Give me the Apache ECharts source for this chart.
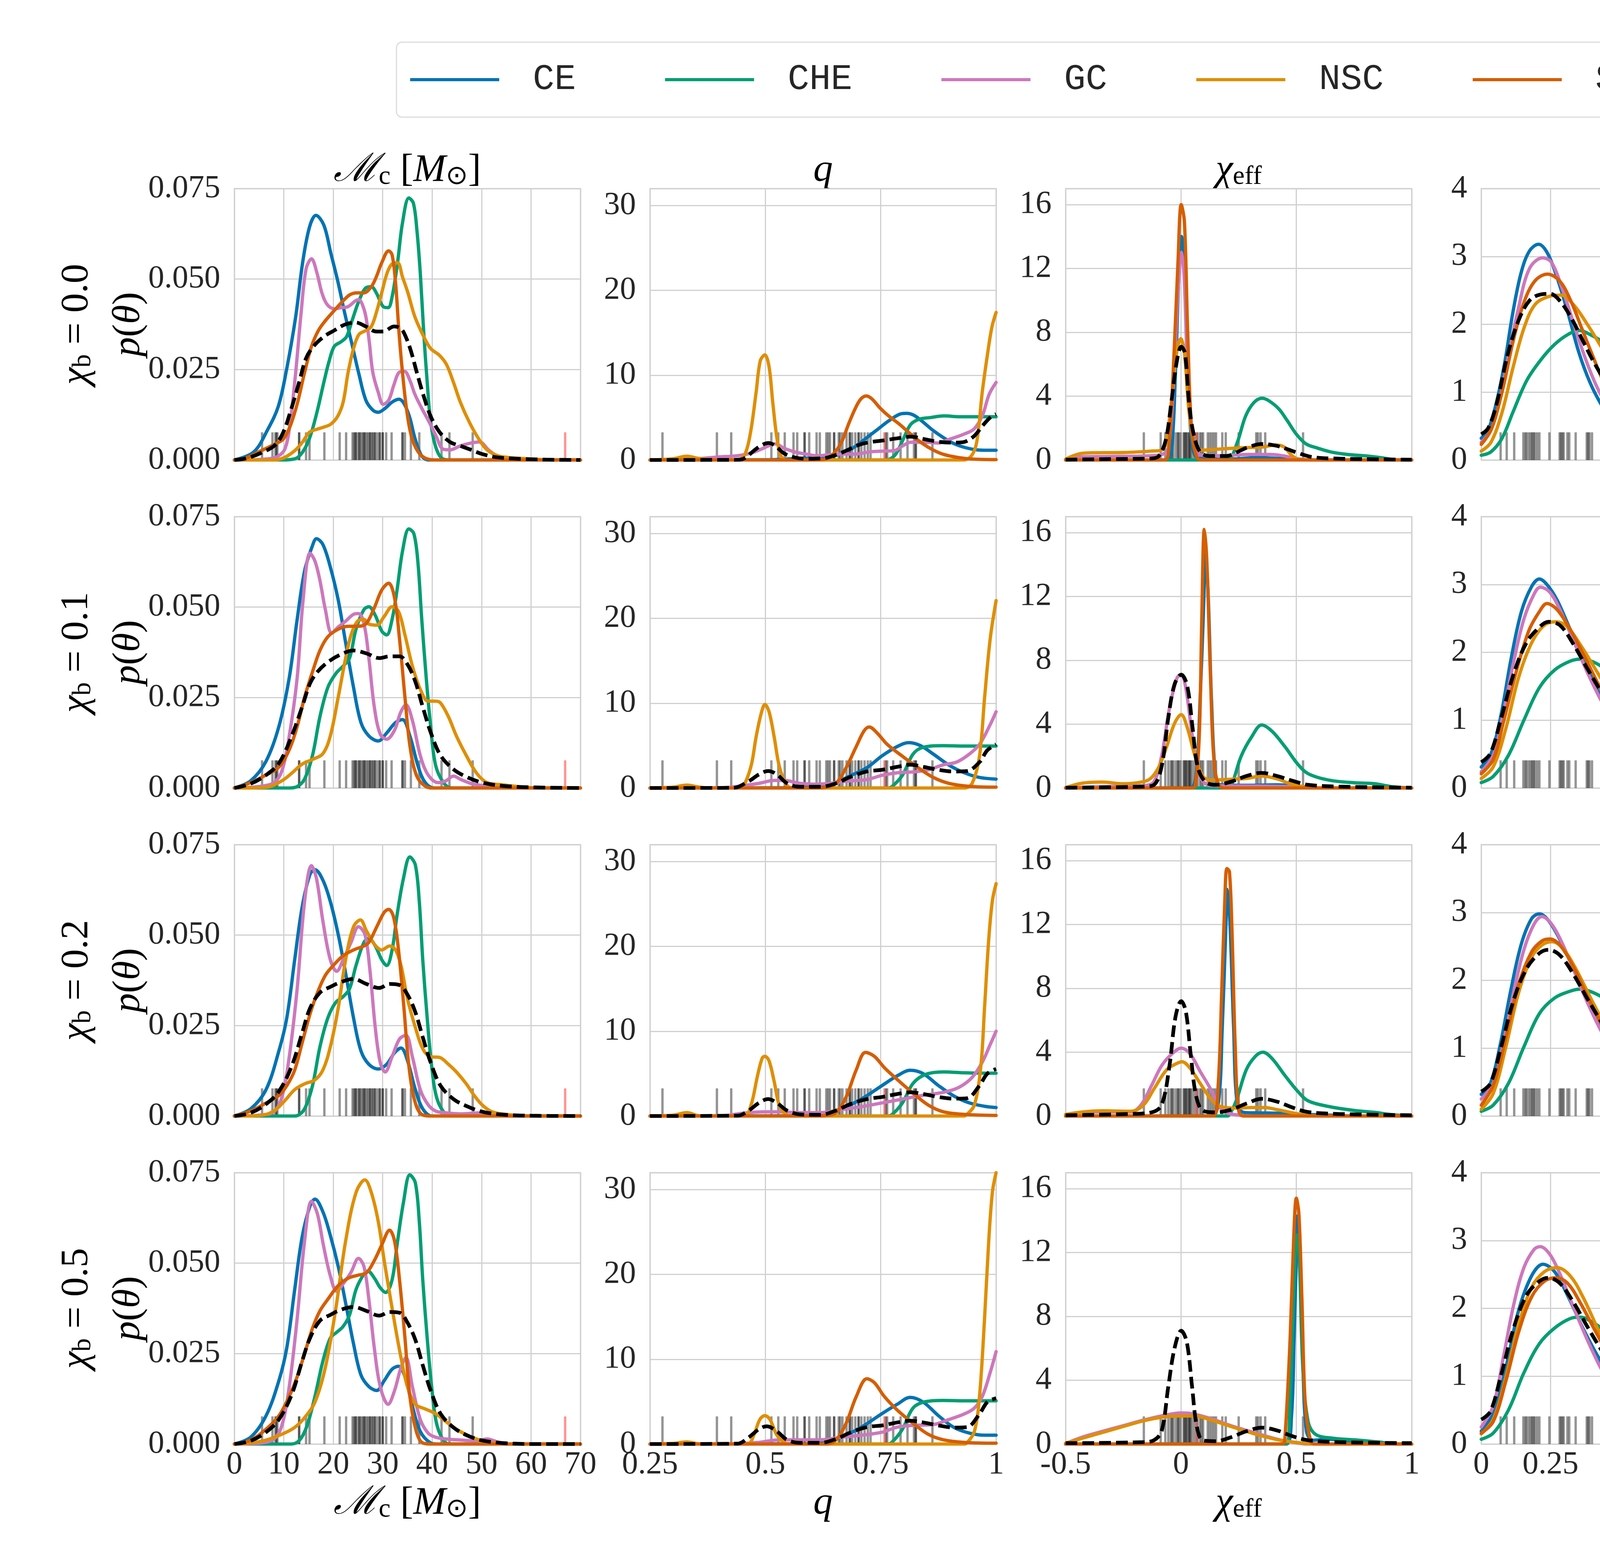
<!DOCTYPE html>
<html>
<head>
<meta charset="utf-8">
<script src="https://cdn.jsdelivr.net/npm/echarts@6/dist/echarts.min.js"></script>
<style>
  html, body { margin: 0; padding: 0; background: #fff; }
  #chart { width: 4800px; height: 4000px; }
</style>
</head>
<body>
<div id="chart"></div>
<script>
// formation channels and their colours
const models = ['CE', 'CHE', 'GC', 'NSC', 'SMT'];
const modelColors = ['#0173b2', '#029e73', '#cc78bc', '#de8f05', '#d55e00'];
const chiB = ['0.0', '0.1', '0.2', '0.5'];

// tick values / labels
const mcXTicks = [0, 10, 20, 30, 40, 50, 60, 70];
const mcXLabels = ['0', '10', '20', '30', '40', '50', '60', '70'];
const mcYTicks = [0, 0.025, 0.05, 0.075];
const mcYLabels = ['0.000', '0.025', '0.050', '0.075'];
const qXTicks = [0.25, 0.5, 0.75, 1];
const qXLabels = ['0.25', '0.5', '0.75', '1'];
const qYTicks = [0, 10, 20, 30];
const qYLabels = ['0', '10', '20', '30'];
const chiXTicks = [-0.5, 0, 0.5, 1];
const chiXLabels = ['-0.5', '0', '0.5', '1'];
const chiYTicks = [0, 4, 8, 12, 16];
const chiYLabels = ['0', '4', '8', '12', '16'];
const zXTicks = [0, 0.25, 0.5, 0.75, 1, 1.25];
const zXLabels = ['0', '0.25', '0.5', '0.75', '1.0', '1.25'];
const zYTicks = [0, 1, 2, 3, 4];
const zYLabels = ['0', '1', '2', '3', '4'];

// observed events (rug)
const mcEvents = [5.6, 7.7, 8.3, 8.5, 8.7, 13.1, 13.1, 14.5, 15.2, 18.2, 21.3, 22.6, 23.9, 24.2, 24.5, 24.5, 24.9, 25.3, 25.3, 25.7, 26.0, 26.3, 26.3, 26.7, 27.0, 27.4, 27.4, 27.8, 28.0, 28.4, 28.4, 28.9, 29.4, 29.4, 30.0, 30.0, 30.7, 31.8, 34.0, 34.0, 34.5, 35.7, 37.4, 41.9, 43.5, 48.2];
const mcRed = [66.9];
const qEvents = [0.277, 0.395, 0.426, 0.513, 0.528, 0.542, 0.561, 0.569, 0.585, 0.585, 0.595, 0.611, 0.618, 0.632, 0.636, 0.640, 0.649, 0.649, 0.659, 0.662, 0.667, 0.676, 0.683, 0.683, 0.688, 0.695, 0.702, 0.702, 0.708, 0.715, 0.722, 0.728, 0.761, 0.764, 0.777, 0.793, 0.808, 0.822, 0.826, 0.826, 0.862];
const qRed = [0.758];
const chiEvents = [-0.161, -0.088, -0.068, -0.055, -0.044, -0.039, -0.033, -0.022, -0.013, -0.011, -0.002, 0.011, 0.015, 0.020, 0.023, 0.029, 0.035, 0.038, 0.041, 0.049, 0.059, 0.071, 0.082, 0.089, 0.096, 0.116, 0.125, 0.134, 0.143, 0.152, 0.179, 0.194, 0.250, 0.326, 0.334, 0.345, 0.365, 0.529];
const chiRed = [0.067];
const zEvents = [0.070, 0.092, 0.119, 0.152, 0.159, 0.164, 0.172, 0.179, 0.184, 0.189, 0.194, 0.202, 0.210, 0.246, 0.283, 0.288, 0.293, 0.298, 0.311, 0.318, 0.341, 0.381, 0.386, 0.391, 0.400, 0.443, 0.474, 0.490, 0.502, 0.512, 0.530, 0.535, 0.597, 0.604, 0.610, 0.646, 0.661, 0.733, 0.749, 0.769, 0.796];
const zRed = [0.719];

// ---------- chi_b = 0.0 ----------
const mc0_CE = [[0,0],[3.9,0.0022],[6.7,0.0083],[8.9,0.0149],[10.6,0.0253],[12.4,0.0396],[13.8,0.0545],[15.2,0.0644],[16.5,0.0676],[18.1,0.0649],[19.5,0.0572],[20.9,0.0495],[22.3,0.0407],[23.8,0.0319],[25.2,0.0237],[26.6,0.0165],[28.0,0.0138],[29.1,0.0132],[30.5,0.0143],[31.9,0.0160],[33.3,0.0168],[34.4,0.0154],[35.5,0.0116],[36.5,0.0061],[37.9,0.0011],[39.4,0],[70,0]];
const mc0_CHE = [[0,0],[9.6,0],[12.4,0.0004],[13.8,0.0022],[15.2,0.006],[16.7,0.0132],[18.1,0.0215],[19.1,0.027],[20.2,0.0314],[21.6,0.0327],[22.7,0.0341],[23.8,0.0385],[25.2,0.044],[26.6,0.0476],[27.7,0.0479],[28.7,0.0462],[30.1,0.0424],[31.1,0.0421],[31.9,0.0451],[33.0,0.0545],[34.0,0.0655],[35.3,0.0724],[36.2,0.071],[36.9,0.0638],[37.6,0.0517],[38.3,0.0352],[39.0,0.0215],[39.7,0.0105],[40.8,0.0033],[42.2,0.0003],[44,0],[70,0]];
const mc0_GC = [[0,0],[6.7,0.0003],[8.9,0.0011],[10.3,0.0033],[11.3,0.0105],[12.4,0.0242],[13.5,0.0407],[14.5,0.0528],[15.6,0.0556],[16.7,0.0517],[17.7,0.0462],[18.8,0.0429],[20.2,0.0418],[21.6,0.0421],[23.0,0.0424],[24.5,0.044],[25.2,0.0443],[25.9,0.0429],[26.6,0.0396],[27.3,0.0325],[28.0,0.0242],[29.1,0.0187],[30.1,0.0154],[31.2,0.0165],[32.3,0.0209],[33.3,0.0242],[34.4,0.0245],[35.5,0.022],[36.5,0.0182],[37.9,0.0143],[39.4,0.0105],[40.8,0.0066],[42.2,0.003],[43.6,0.0028],[45.7,0.0039],[47.9,0.0047],[49.6,0.005],[51.4,0.0028],[53.5,0.0008],[56,0.0002],[70,0]];
const mc0_NSC = [[0,0],[8.2,0],[10.3,0.0008],[12.4,0.0028],[13.8,0.005],[15.2,0.0077],[16.7,0.0085],[18.1,0.0091],[19.5,0.0099],[20.9,0.0121],[22.0,0.016],[23.0,0.0242],[24.1,0.0308],[25.2,0.0347],[26.6,0.0358],[27.7,0.0369],[28.7,0.0407],[29.8,0.0462],[30.9,0.0517],[31.9,0.0542],[33.0,0.0545],[34.0,0.0506],[35.1,0.0462],[36.5,0.0396],[38.3,0.0341],[39.7,0.0308],[41.5,0.0289],[42.9,0.0264],[44.3,0.0215],[45.7,0.016],[47.5,0.0105],[49.3,0.0061],[51.1,0.0028],[53.5,0.0011],[56.4,0.0006],[59.9,0.0003],[64,0],[70,0]];
const mc0_SMT = [[0,0],[2.5,0.0006],[5.3,0.0025],[8.2,0.0044],[9.9,0.0058],[11.3,0.0094],[12.8,0.016],[14.2,0.0242],[15.6,0.0314],[17.0,0.0358],[18.4,0.0385],[20.2,0.0413],[22.0,0.044],[23.4,0.0457],[24.8,0.0462],[26.2,0.0462],[27.7,0.0479],[28.7,0.0506],[29.8,0.0545],[31.2,0.0578],[31.9,0.0567],[32.6,0.049],[33.3,0.0352],[34.0,0.0242],[34.8,0.0143],[35.8,0.0066],[37.2,0.0022],[39.0,0.0003],[41,0],[70,0]];
const mc0_all = [[0,0],[2.5,0.0005],[5.3,0.0019],[8.2,0.0041],[9.9,0.0077],[11.3,0.0132],[13.1,0.0215],[14.5,0.0281],[16.0,0.0314],[18.1,0.0341],[20.2,0.0358],[22.3,0.0374],[24.5,0.038],[26.6,0.0369],[28.7,0.0355],[30.1,0.0355],[32.3,0.0369],[33.7,0.0363],[34.8,0.0336],[35.8,0.0297],[36.9,0.0242],[38.3,0.0176],[39.7,0.0121],[41.5,0.0077],[43.6,0.005],[45.7,0.0039],[47.9,0.0028],[50.0,0.0017],[52.8,0.0008],[56.4,0.0004],[63,0.0001],[70,0]];

const q0_CE = [[0.25,0],[0.5,0.02],[0.576,0.2],[0.636,0.35],[0.671,0.9],[0.695,1.6],[0.719,2.6],[0.743,3.6],[0.767,4.6],[0.791,5.4],[0.806,5.5],[0.821,5.3],[0.839,4.6],[0.863,3.5],[0.887,2.6],[0.91,1.9],[0.934,1.45],[0.958,1.2],[0.982,1.15],[1,1.15]];
const q0_CHE = [[0.25,0],[0.76,0],[0.773,0.2],[0.785,0.9],[0.8,2.6],[0.815,4.2],[0.833,4.8],[0.857,5.0],[0.887,5.2],[0.922,5.1],[0.958,5.1],[1,5.1]];
const q0_GC = [[0.25,0],[0.337,0.1],[0.396,0.35],[0.438,0.5],[0.468,0.8],[0.492,1.3],[0.51,1.75],[0.522,1.9],[0.54,1.4],[0.564,0.95],[0.588,0.7],[0.612,0.5],[0.636,0.6],[0.665,0.7],[0.695,0.7],[0.725,0.95],[0.755,1.05],[0.779,1.1],[0.797,1.65],[0.815,2.1],[0.845,2.1],[0.875,2.0],[0.899,2.45],[0.928,3.0],[0.952,3.65],[0.97,5.2],[0.985,7.75],[1,9.15]];
const q0_NSC = [[0.25,0],[0.3,0.15],[0.33,0.45],[0.355,0.2],[0.4,0],[0.444,0.1],[0.456,0.7],[0.468,3.3],[0.48,8.0],[0.489,11.7],[0.499,12.4],[0.508,11.0],[0.516,6.8],[0.525,2.6],[0.534,0.45],[0.546,0],[0.928,0],[0.946,0.45],[0.958,2.1],[0.97,8.0],[0.982,12.7],[0.991,15.7],[1,17.4]];
const q0_SMT = [[0.25,0],[0.6,0],[0.63,0.1],[0.647,0.7],[0.665,2.1],[0.68,4.2],[0.695,6.1],[0.707,7.2],[0.719,7.55],[0.731,7.2],[0.749,6.1],[0.767,5.2],[0.791,4.2],[0.815,3.05],[0.839,2.0],[0.863,1.2],[0.887,0.65],[0.917,0.3],[0.946,0.12],[1,0.05]];
const q0_all = [[0.25,0],[0.44,0.02],[0.456,0.25],[0.474,1.05],[0.492,1.75],[0.507,2.0],[0.522,1.65],[0.54,0.8],[0.564,0.3],[0.588,0.15],[0.624,0.2],[0.653,0.6],[0.677,1.15],[0.701,1.75],[0.725,2.1],[0.755,2.3],[0.785,2.55],[0.815,2.75],[0.845,2.45],[0.875,2.15],[0.904,2.05],[0.928,2.1],[0.952,2.8],[0.97,4.0],[0.988,5.05],[1,5.4]];

const chi0_CE = [[-0.5,0],[-0.066,0],[-0.042,0.5],[-0.024,5.5],[-0.009,11.7],[0.002,14.0],[0.011,13.0],[0.027,6.7],[0.047,1.1],[0.077,0.1],[0.2,0.05],[0.33,0.15],[0.45,0.08],[0.6,0],[1,0]];
const chi0_CHE = [[-0.5,0],[0.19,0],[0.208,0.02],[0.244,1.1],[0.28,2.75],[0.316,3.6],[0.352,3.87],[0.382,3.7],[0.424,3.2],[0.459,2.5],[0.501,1.6],[0.543,1.0],[0.591,0.75],[0.651,0.5],[0.722,0.35],[0.806,0.25],[0.866,0.15],[0.913,0.04],[0.95,0],[1,0]];
const chi0_GC = [[-0.5,0.02],[-0.449,0.19],[-0.305,0.22],[-0.126,0.27],[-0.078,0.37],[-0.054,0.75],[-0.030,5.5],[-0.013,10.5],[0.001,13.0],[0.013,11.7],[0.029,5.5],[0.053,1.1],[0.089,0.3],[0.173,0.27],[0.292,0.35],[0.388,0.35],[0.447,0.25],[0.495,0.1],[0.56,0],[1,0]];
const chi0_NSC = [[-0.5,0.06],[-0.437,0.4],[-0.389,0.45],[-0.245,0.47],[-0.126,0.56],[-0.084,0.62],[-0.066,1.0],[-0.042,3.6],[-0.019,6.7],[-0.001,7.6],[0.015,6.7],[0.035,3.0],[0.059,1.0],[0.089,0.62],[0.173,0.69],[0.268,0.77],[0.352,0.81],[0.411,0.94],[0.447,0.81],[0.483,0.25],[0.519,0.02],[0.6,0],[1,0]];
const chi0_SMT = [[-0.5,0],[-0.07,0],[-0.054,0.5],[-0.030,6.7],[-0.013,12.4],[0.001,16.0],[0.015,14.9],[0.029,8.0],[0.047,1.75],[0.071,0.12],[0.1,0],[1,0]];
const chi0_all = [[-0.5,0.02],[-0.305,0.06],[-0.126,0.1],[-0.096,0.25],[-0.066,1.25],[-0.042,3.6],[-0.019,6.1],[0.001,7.1],[0.017,6.7],[0.035,3.6],[0.053,1.75],[0.083,0.5],[0.125,0.25],[0.197,0.25],[0.244,0.5],[0.292,0.81],[0.352,1.0],[0.411,0.9],[0.459,0.69],[0.507,0.44],[0.567,0.19],[0.651,0.1],[0.83,0.05],[1,0.02]];

const z0_CE = [[0,0.32],[0.025,0.44],[0.055,0.85],[0.085,1.44],[0.114,2.17],[0.144,2.76],[0.174,3.08],[0.207,3.18],[0.239,3.05],[0.273,2.70],[0.313,2.17],[0.353,1.58],[0.393,1.14],[0.433,0.82],[0.472,0.59],[0.512,0.41],[0.572,0.23],[0.631,0.12],[0.711,0.044],[0.791,0.012],[0.9,0],[1.25,0]];
const z0_CHE = [[0,0.07],[0.035,0.12],[0.075,0.32],[0.114,0.70],[0.164,1.17],[0.214,1.47],[0.264,1.70],[0.313,1.85],[0.353,1.91],[0.393,1.85],[0.443,1.73],[0.492,1.58],[0.542,1.41],[0.592,1.20],[0.641,1.0],[0.691,0.79],[0.751,0.59],[0.81,0.44],[0.87,0.29],[0.93,0.18],[0.989,0.12],[1.059,0.065],[1.139,0.03],[1.25,0.012]];
const z0_GC = [[0,0.26],[0.035,0.44],[0.065,0.85],[0.094,1.44],[0.134,2.23],[0.174,2.82],[0.222,2.98],[0.254,2.91],[0.293,2.52],[0.333,2.02],[0.373,1.53],[0.413,1.12],[0.452,0.82],[0.492,0.62],[0.542,0.44],[0.592,0.32],[0.651,0.22],[0.711,0.13],[0.771,0.06],[0.84,0.015],[1.0,0],[1.25,0]];
const z0_NSC = [[0,0.13],[0.035,0.26],[0.075,0.70],[0.114,1.35],[0.154,1.94],[0.194,2.29],[0.244,2.41],[0.288,2.43],[0.333,2.29],[0.383,2.0],[0.433,1.67],[0.482,1.32],[0.532,1.03],[0.592,0.73],[0.651,0.50],[0.721,0.29],[0.791,0.15],[0.89,0.044],[0.99,0.01],[1.1,0],[1.25,0]];
const z0_SMT = [[0,0.23],[0.035,0.44],[0.075,1.0],[0.114,1.73],[0.154,2.32],[0.194,2.64],[0.239,2.74],[0.283,2.64],[0.323,2.35],[0.363,1.94],[0.403,1.53],[0.443,1.14],[0.492,0.79],[0.542,0.53],[0.592,0.32],[0.651,0.16],[0.721,0.06],[0.791,0.015],[0.9,0],[1.25,0]];
const z0_all = [[0,0.38],[0.025,0.47],[0.055,0.82],[0.094,1.53],[0.134,2.05],[0.174,2.35],[0.214,2.44],[0.249,2.45],[0.283,2.35],[0.323,2.11],[0.363,1.79],[0.403,1.47],[0.452,1.14],[0.512,0.85],[0.572,0.62],[0.631,0.44],[0.691,0.31],[0.761,0.19],[0.84,0.10],[0.94,0.044],[1.04,0.02],[1.25,0.01]];

// ---------- chi_b = 0.1 ----------
const mc1_CE = [[0,0],[3.3,0.002],[6.4,0.0074],[9.0,0.017],[11.1,0.0305],[12.7,0.0466],[14.2,0.06],[15.8,0.067],[16.6,0.0689],[17.9,0.0673],[19.4,0.0611],[21.0,0.052],[22.5,0.0402],[24.1,0.0278],[25.6,0.0181],[27.2,0.0144],[29.1,0.013],[30.8,0.0152],[32.6,0.0181],[34.0,0.0189],[35.5,0.0144],[37.1,0.0063],[38.6,0.0015],[40.5,0],[70,0]];
const mc1_CHE = [[0,0],[11,0],[12.7,0.0004],[14.2,0.0025],[15.8,0.009],[17.3,0.0197],[18.9,0.0278],[20.5,0.0316],[22.0,0.0337],[23.3,0.0359],[24.6,0.0439],[26.2,0.0493],[27.2,0.0501],[28.5,0.0477],[29.8,0.0434],[30.8,0.0423],[31.9,0.0466],[32.9,0.0547],[34.0,0.0654],[35.3,0.0716],[36.3,0.0703],[37.1,0.0627],[37.9,0.0466],[38.8,0.0305],[39.7,0.017],[40.7,0.0063],[42.3,0.0015],[44,0],[70,0]];
const mc1_GC = [[0,0],[5.4,0.0005],[8.0,0.0015],[9.6,0.0047],[11.1,0.0144],[12.7,0.0305],[13.9,0.052],[15.3,0.0649],[16.3,0.0627],[17.3,0.0574],[18.4,0.0493],[19.7,0.0428],[21.0,0.0445],[22.5,0.0461],[24.1,0.048],[25.1,0.0482],[26.2,0.0455],[27.2,0.0359],[28.3,0.0224],[29.5,0.0149],[30.8,0.0135],[32.4,0.016],[33.6,0.0208],[34.7,0.023],[36.0,0.0187],[37.6,0.009],[39.2,0.0036],[41.2,0.0015],[42.8,0.002],[44.3,0.0033],[45.9,0.0023],[48.0,0.0012],[51.1,0.0005],[55,0],[70,0]];
const mc1_NSC = [[0,0],[6.4,0.0002],[9.6,0.002],[11.6,0.0041],[13.7,0.0066],[15.8,0.0079],[17.9,0.0095],[19.4,0.0144],[21.0,0.0251],[22.5,0.0359],[23.6,0.0423],[24.9,0.0461],[26.2,0.0466],[27.2,0.0453],[28.8,0.045],[30.3,0.0474],[31.9,0.0501],[33.2,0.0488],[34.5,0.0423],[36.0,0.0337],[37.6,0.0273],[39.2,0.024],[40.7,0.024],[41.7,0.0235],[43.3,0.0197],[44.9,0.0144],[46.9,0.009],[49.0,0.0041],[51.1,0.0015],[54.2,0.0009],[57.3,0.0004],[62,0],[70,0]];
const mc1_SMT = [[0,0],[3.3,0.0015],[6.4,0.0036],[9.0,0.0058],[11.1,0.0106],[12.7,0.017],[14.2,0.0251],[15.8,0.0321],[17.3,0.038],[18.9,0.0418],[21.0,0.0439],[23.1,0.0447],[25.1,0.0447],[26.7,0.0455],[28.3,0.0498],[29.8,0.0547],[31.2,0.0566],[32.4,0.0525],[33.4,0.0412],[34.5,0.0251],[35.5,0.0117],[36.8,0.0036],[38.6,0.0005],[40.5,0],[70,0]];
const mc1_all = [[0,0],[3.3,0.0012],[6.4,0.0036],[9.0,0.0068],[11.6,0.0144],[13.7,0.0224],[15.3,0.0289],[16.8,0.0321],[18.9,0.0348],[21.5,0.0369],[24.1,0.038],[26.7,0.0372],[29.3,0.0359],[31.4,0.0364],[33.4,0.0364],[35.0,0.0342],[36.6,0.0294],[38.1,0.0224],[39.7,0.0154],[41.7,0.009],[44.3,0.0052],[46.9,0.0031],[50.1,0.0015],[54.2,0.0006],[60,0.0002],[70,0]];

const q1_CE = [[0.25,0],[0.55,0.02],[0.586,0.1],[0.642,0.45],[0.686,1.5],[0.72,2.4],[0.753,3.8],[0.786,4.9],[0.811,5.35],[0.836,5.0],[0.864,4.0],[0.898,2.7],[0.931,1.8],[0.964,1.25],[1,1.05]];
const q1_CHE = [[0.25,0],[0.765,0],[0.775,0.2],[0.797,1.5],[0.82,4.0],[0.842,4.8],[0.886,5.0],[0.931,4.95],[1,4.95]];
const q1_GC = [[0.25,0],[0.4,0.02],[0.441,0.2],[0.486,0.55],[0.519,0.9],[0.541,0.9],[0.575,0.55],[0.608,0.45],[0.642,0.55],[0.675,0.8],[0.72,1.0],[0.753,1.5],[0.786,1.8],[0.82,1.9],[0.853,2.15],[0.886,2.75],[0.914,3.05],[0.942,4.0],[0.964,5.15],[0.987,7.45],[1,9.0]];
const q1_NSC = [[0.25,0],[0.3,0.1],[0.33,0.35],[0.352,0.15],[0.38,0],[0.44,0],[0.452,0.2],[0.469,2.6],[0.48,6.05],[0.491,8.8],[0.499,9.85],[0.508,9.0],[0.519,6.05],[0.53,2.6],[0.544,0.55],[0.558,0],[0.931,0],[0.948,0.55],[0.964,3.75],[0.975,10.6],[0.987,17.5],[1,22.1]];
const q1_SMT = [[0.25,0],[0.61,0],[0.631,0.1],[0.653,0.55],[0.675,2.4],[0.697,4.9],[0.714,6.75],[0.725,7.2],[0.742,6.5],[0.764,5.15],[0.797,3.75],[0.831,2.4],[0.864,1.25],[0.898,0.55],[0.942,0.2],[1,0.1]];
const q1_all = [[0.25,0],[0.43,0.02],[0.464,0.8],[0.486,1.6],[0.506,2.0],[0.525,1.6],[0.547,0.55],[0.575,0.15],[0.619,0.15],[0.653,0.55],[0.686,1.35],[0.72,1.95],[0.753,2.15],[0.786,2.5],[0.814,2.75],[0.842,2.5],[0.875,2.15],[0.909,1.95],[0.937,2.0],[0.964,3.05],[0.981,4.45],[1,5.15]];

const chi1_CE = [[-0.5,0],[0.039,0],[0.065,0.75],[0.083,5.6],[0.099,11.8],[0.105,14.7],[0.117,12.4],[0.132,5.6],[0.15,0.75],[0.172,0.2],[0.283,0.17],[0.417,0.2],[0.506,0.1],[0.6,0],[1,0]];
const chi1_CHE = [[-0.5,0],[0.2,0],[0.217,0.1],[0.261,2.0],[0.306,3.2],[0.35,3.95],[0.395,3.55],[0.45,2.6],[0.506,1.5],[0.551,0.9],[0.64,0.5],[0.751,0.33],[0.84,0.27],[0.907,0.1],[1,0]];
const chi1_GC = [[-0.5,0.02],[-0.34,0.09],[-0.162,0.15],[-0.117,0.4],[-0.084,2.0],[-0.05,5.0],[-0.017,6.9],[0.001,7.1],[0.021,6.25],[0.05,3.2],[0.083,0.75],[0.128,0.15],[0.328,0.12],[0.462,0.09],[0.55,0],[1,0]];
const chi1_NSC = [[-0.5,0.02],[-0.429,0.3],[-0.34,0.37],[-0.251,0.27],[-0.162,0.4],[-0.128,0.65],[-0.095,1.35],[-0.062,2.6],[-0.028,4.05],[0.001,4.6],[0.027,3.8],[0.061,2.0],[0.094,0.75],[0.128,0.5],[0.217,0.55],[0.283,0.6],[0.35,0.75],[0.417,0.57],[0.473,0.27],[0.528,0.09],[0.6,0],[1,0]];
const chi1_SMT = [[-0.5,0],[0.045,0],[0.061,0.1],[0.079,3.2],[0.09,10.5],[0.101,16.2],[0.112,14.2],[0.128,6.9],[0.145,1.4],[0.172,0.05],[0.2,0],[1,0]];
const chi1_all = [[-0.5,0.02],[-0.162,0.09],[-0.117,0.2],[-0.084,1.35],[-0.055,4.4],[-0.028,6.5],[0.001,7.1],[0.027,6.4],[0.05,3.8],[0.072,1.35],[0.105,0.4],[0.15,0.2],[0.217,0.4],[0.283,0.75],[0.35,0.95],[0.417,0.75],[0.484,0.45],[0.551,0.2],[0.684,0.09],[1,0.02]];

const z1_CE = [[0,0.31],[0.033,0.48],[0.07,1.05],[0.108,1.91],[0.145,2.6],[0.182,2.97],[0.21,3.08],[0.237,3.0],[0.274,2.77],[0.321,2.34],[0.376,1.86],[0.432,1.34],[0.488,0.91],[0.562,0.54],[0.636,0.28],[0.729,0.12],[0.84,0.04],[0.951,0.01],[1.05,0],[1.25,0]];
const z1_CHE = [[0,0.08],[0.043,0.17],[0.098,0.48],[0.154,1.0],[0.21,1.48],[0.265,1.74],[0.321,1.87],[0.358,1.9],[0.404,1.86],[0.451,1.74],[0.506,1.51],[0.58,1.26],[0.655,1.0],[0.747,0.68],[0.84,0.42],[0.933,0.25],[1.026,0.14],[1.118,0.066],[1.25,0.023]];
const z1_GC = [[0,0.24],[0.043,0.48],[0.08,1.11],[0.117,1.86],[0.154,2.49],[0.191,2.86],[0.213,2.96],[0.247,2.89],[0.284,2.63],[0.33,2.2],[0.386,1.68],[0.441,1.23],[0.506,0.8],[0.58,0.45],[0.673,0.21],[0.766,0.08],[0.877,0.023],[1.0,0],[1.25,0]];
const z1_NSC = [[0,0.14],[0.043,0.31],[0.089,0.88],[0.135,1.63],[0.182,2.14],[0.228,2.4],[0.271,2.45],[0.312,2.37],[0.358,2.11],[0.414,1.74],[0.469,1.37],[0.525,1.03],[0.599,0.65],[0.673,0.37],[0.766,0.17],[0.877,0.057],[1.007,0.017],[1.12,0],[1.25,0]];
const z1_SMT = [[0,0.21],[0.043,0.42],[0.08,0.97],[0.126,1.71],[0.172,2.32],[0.21,2.6],[0.237,2.72],[0.274,2.63],[0.321,2.34],[0.376,1.91],[0.432,1.46],[0.488,1.05],[0.562,0.65],[0.636,0.37],[0.729,0.15],[0.84,0.046],[0.97,0.01],[1.1,0],[1.25,0]];
const z1_all = [[0,0.38],[0.033,0.51],[0.07,1.0],[0.117,1.68],[0.163,2.14],[0.21,2.37],[0.243,2.45],[0.284,2.4],[0.33,2.14],[0.386,1.74],[0.441,1.37],[0.497,1.03],[0.562,0.71],[0.636,0.45],[0.729,0.25],[0.84,0.11],[0.97,0.046],[1.25,0.01]];

// ---------- chi_b = 0.2 ----------
const mc2_CE = [[0,0],[3.3,0.002],[6.4,0.0073],[9.0,0.018],[10.6,0.0271],[12.2,0.0432],[13.7,0.0577],[15.3,0.0668],[16.3,0.0681],[17.9,0.0652],[19.4,0.0593],[21.0,0.0502],[22.5,0.0395],[24.1,0.0271],[25.6,0.018],[27.2,0.0143],[29.1,0.013],[30.8,0.0143],[32.4,0.0175],[33.7,0.0188],[35.0,0.0154],[36.6,0.0073],[38.1,0.002],[40,0],[70,0]];
const mc2_CHE = [[0,0],[12,0],[12.7,0.0001],[14.2,0.002],[15.8,0.0084],[17.3,0.0191],[18.9,0.0271],[20.5,0.0314],[22.0,0.033],[23.3,0.0352],[24.6,0.0416],[26.2,0.048],[27.2,0.0491],[28.5,0.047],[29.8,0.0432],[30.8,0.0416],[31.9,0.0459],[32.9,0.0555],[34.2,0.0657],[35.5,0.0716],[36.6,0.0694],[37.4,0.0593],[38.1,0.0432],[39.0,0.0271],[39.9,0.0138],[41.0,0.0047],[42.8,0.0004],[44,0],[70,0]];
const mc2_GC = [[0,0],[5.4,0.0003],[8.0,0.0012],[9.6,0.0052],[11.1,0.0164],[12.7,0.0352],[14.2,0.0593],[15.6,0.0692],[16.6,0.0657],[17.9,0.0539],[19.4,0.0432],[20.7,0.04],[22.0,0.0432],[23.6,0.048],[25.1,0.0523],[26.4,0.0502],[27.4,0.0405],[28.5,0.0244],[29.5,0.0148],[30.5,0.0122],[31.9,0.0164],[33.4,0.0213],[34.7,0.0223],[36.0,0.0164],[37.6,0.0073],[39.2,0.0031],[40.7,0.0014],[42.8,0.0009],[45.9,0.0006],[50.1,0.0009],[52.7,0.0004],[55,0],[70,0]];
const mc2_NSC = [[0,0],[5.4,0.0002],[8.0,0.0014],[10.1,0.0041],[12.2,0.0073],[14.2,0.0089],[16.3,0.01],[17.9,0.0127],[19.4,0.0191],[21.0,0.0298],[22.5,0.0432],[24.1,0.0523],[25.5,0.0542],[26.7,0.0512],[28.3,0.0475],[29.8,0.0459],[31.4,0.047],[32.6,0.0459],[33.7,0.0416],[35.0,0.0325],[36.6,0.0245],[38.1,0.0186],[39.7,0.0164],[41.5,0.0162],[43.3,0.0143],[44.9,0.0122],[46.9,0.0089],[48.5,0.0057],[50.1,0.0031],[52.1,0.0012],[55.2,0.0004],[60,0],[70,0]];
const mc2_SMT = [[0,0],[3.3,0.0014],[6.4,0.0036],[9.0,0.0057],[10.6,0.0084],[12.2,0.0127],[13.7,0.0202],[15.3,0.0282],[16.8,0.0341],[18.4,0.0389],[20.0,0.0416],[22.0,0.0443],[24.1,0.0459],[26.2,0.047],[27.2,0.048],[28.8,0.0523],[30.3,0.0563],[31.2,0.0571],[32.2,0.055],[33.2,0.0459],[34.3,0.0298],[35.3,0.0138],[36.6,0.0036],[38.1,0.0003],[40,0],[70,0]];
const mc2_all = [[0,0],[3.3,0.0009],[6.4,0.0033],[9.0,0.0068],[11.6,0.0138],[13.7,0.0229],[15.3,0.0298],[17.3,0.0341],[19.4,0.0357],[21.5,0.037],[24.1,0.0379],[26.7,0.0365],[29.3,0.0354],[31.4,0.0365],[33.4,0.0362],[35.0,0.0336],[36.6,0.0287],[38.1,0.0218],[39.7,0.0148],[41.7,0.0084],[44.3,0.0047],[46.9,0.0028],[50.1,0.0012],[54.2,0.0004],[60,0.0001],[70,0]];

const q2_CE = [[0.25,0],[0.56,0.02],[0.619,0.2],[0.664,0.85],[0.708,2.0],[0.753,3.6],[0.786,4.75],[0.814,5.4],[0.842,5.0],[0.875,3.6],[0.909,2.35],[0.942,1.55],[0.975,1.15],[1,1.0]];
const q2_CHE = [[0.25,0],[0.765,0],[0.775,0.2],[0.797,1.55],[0.82,3.85],[0.847,4.9],[0.886,5.2],[0.931,5.1],[0.975,5.05],[1,5.05]];
const q2_GC = [[0.25,0],[0.41,0.05],[0.452,0.35],[0.497,0.5],[0.53,0.5],[0.575,0.4],[0.619,0.4],[0.664,0.75],[0.708,1.1],[0.753,1.55],[0.797,2.0],[0.842,2.45],[0.886,2.8],[0.92,3.4],[0.948,4.55],[0.97,6.35],[0.987,8.4],[1,10.0]];
const q2_NSC = [[0.25,0],[0.3,0.1],[0.33,0.4],[0.355,0.05],[0.38,0],[0.455,0],[0.469,1.3],[0.483,4.75],[0.493,6.8],[0.499,7.05],[0.508,6.5],[0.519,4.1],[0.53,1.3],[0.544,0.2],[0.556,0],[0.93,0],[0.937,0.2],[0.953,1.3],[0.967,5.9],[0.975,12.8],[0.984,20.8],[0.992,25.4],[1,27.4]];
const q2_SMT = [[0.25,0],[0.61,0],[0.631,0.07],[0.653,0.4],[0.675,2.25],[0.697,5.45],[0.717,7.5],[0.736,7.05],[0.758,5.7],[0.786,4.3],[0.82,2.7],[0.853,1.3],[0.886,0.5],[0.931,0.2],[1,0.07]];
const q2_all = [[0.25,0],[0.44,0.05],[0.464,0.65],[0.486,1.55],[0.506,2.0],[0.525,1.55],[0.547,0.65],[0.575,0.2],[0.619,0.15],[0.653,0.65],[0.686,1.45],[0.72,2.0],[0.753,2.25],[0.786,2.6],[0.814,2.8],[0.842,2.6],[0.875,2.25],[0.909,2.05],[0.937,2.1],[0.964,3.6],[0.981,5.0],[1,5.55]];

const chi2_CE = [[-0.5,0],[0.128,0],[0.161,0.7],[0.179,5.6],[0.194,11.6],[0.201,14.2],[0.212,12.2],[0.228,5.6],[0.244,0.7],[0.272,0.23],[0.328,0.2],[0.439,0.17],[0.551,0.1],[0.662,0.05],[0.75,0],[1,0]];
const chi2_CHE = [[-0.5,0],[0.2,0],[0.206,0.02],[0.239,0.95],[0.283,2.9],[0.323,3.75],[0.355,4.0],[0.395,3.6],[0.45,2.55],[0.506,1.55],[0.551,0.95],[0.64,0.6],[0.751,0.35],[0.84,0.23],[0.907,0.1],[1,0]];
const chi2_GC = [[-0.5,0.05],[-0.429,0.23],[-0.295,0.25],[-0.217,0.25],[-0.173,0.7],[-0.128,1.9],[-0.084,3.15],[-0.039,3.9],[0.001,4.25],[0.039,3.9],[0.083,2.8],[0.128,1.7],[0.161,0.7],[0.194,0.23],[0.239,0.08],[0.3,0],[1,0]];
const chi2_NSC = [[-0.5,0.1],[-0.429,0.25],[-0.34,0.33],[-0.217,0.3],[-0.162,0.7],[-0.117,1.7],[-0.062,2.9],[-0.017,3.3],[0.005,3.4],[0.039,3.0],[0.083,2.05],[0.128,1.1],[0.172,0.6],[0.239,0.5],[0.306,0.53],[0.361,0.53],[0.417,0.4],[0.473,0.23],[0.528,0.08],[0.6,0],[1,0]];
const chi2_SMT = [[-0.5,0],[0.14,0],[0.161,1.9],[0.177,8.0],[0.19,13.5],[0.199,15.5],[0.21,15.3],[0.221,11.6],[0.235,4.35],[0.25,0.35],[0.272,0],[1,0]];
const chi2_all = [[-0.5,0.05],[-0.228,0.13],[-0.128,0.23],[-0.084,0.7],[-0.05,3.15],[-0.024,6.2],[0.001,7.2],[0.021,6.55],[0.043,3.75],[0.065,1.3],[0.094,0.35],[0.15,0.23],[0.217,0.4],[0.283,0.78],[0.35,1.08],[0.417,0.9],[0.484,0.53],[0.551,0.25],[0.684,0.13],[1,0.05]];

const z2_CE = [[0,0.32],[0.033,0.48],[0.07,1.08],[0.108,1.88],[0.145,2.54],[0.182,2.91],[0.21,2.98],[0.237,2.91],[0.274,2.68],[0.321,2.28],[0.376,1.79],[0.432,1.31],[0.488,0.91],[0.562,0.53],[0.636,0.28],[0.729,0.1],[0.84,0.03],[0.95,0],[1.25,0]];
const z2_CHE = [[0,0.07],[0.043,0.16],[0.098,0.48],[0.154,1.02],[0.21,1.51],[0.265,1.74],[0.321,1.84],[0.358,1.87],[0.404,1.82],[0.451,1.71],[0.506,1.48],[0.58,1.19],[0.655,0.93],[0.747,0.62],[0.84,0.39],[0.933,0.22],[1.026,0.1],[1.118,0.046],[1.25,0.017]];
const z2_GC = [[0,0.25],[0.043,0.48],[0.08,1.08],[0.117,1.82],[0.154,2.45],[0.191,2.83],[0.219,2.94],[0.25,2.85],[0.284,2.62],[0.33,2.19],[0.386,1.65],[0.441,1.19],[0.506,0.73],[0.58,0.39],[0.673,0.16],[0.766,0.05],[0.9,0],[1.25,0]];
const z2_NSC = [[0,0.1],[0.043,0.33],[0.089,1.02],[0.135,1.82],[0.182,2.34],[0.219,2.52],[0.256,2.57],[0.293,2.48],[0.339,2.19],[0.395,1.74],[0.451,1.31],[0.516,0.88],[0.59,0.5],[0.673,0.25],[0.766,0.09],[0.896,0.017],[1.0,0],[1.25,0]];
const z2_SMT = [[0,0.16],[0.043,0.45],[0.089,1.16],[0.135,1.94],[0.182,2.42],[0.219,2.58],[0.247,2.61],[0.284,2.52],[0.33,2.22],[0.386,1.74],[0.441,1.31],[0.506,0.88],[0.58,0.5],[0.673,0.22],[0.766,0.07],[0.877,0.017],[1.0,0],[1.25,0]];
const z2_all = [[0,0.36],[0.033,0.48],[0.07,0.99],[0.117,1.71],[0.163,2.17],[0.21,2.4],[0.243,2.45],[0.284,2.37],[0.33,2.11],[0.386,1.71],[0.441,1.34],[0.497,0.99],[0.562,0.68],[0.636,0.42],[0.729,0.22],[0.84,0.09],[0.97,0.03],[1.25,0.01]];

// ---------- chi_b = 0.5 ----------
const mc3_CE = [[0,0],[3.3,0.0019],[6.4,0.0078],[9.0,0.0175],[10.6,0.0266],[12.2,0.0427],[13.7,0.0572],[15.3,0.0658],[16.3,0.0677],[17.9,0.0642],[19.4,0.0577],[21.0,0.0491],[22.5,0.039],[24.1,0.0277],[25.6,0.0191],[27.2,0.0159],[28.8,0.0148],[30.3,0.0175],[31.9,0.0207],[33.2,0.0215],[34.5,0.0186],[36.0,0.0105],[37.6,0.0035],[39.7,0.0003],[41,0],[70,0]];
const mc3_CHE = [[0,0],[11.5,0],[13.2,0.0011],[14.7,0.0051],[16.3,0.0132],[17.9,0.0229],[19.4,0.0293],[20.7,0.0309],[22.0,0.0325],[23.3,0.0357],[24.6,0.0427],[26.2,0.047],[27.0,0.0478],[28.3,0.0459],[29.5,0.0432],[30.6,0.0419],[31.9,0.0454],[32.9,0.055],[34.2,0.0668],[35.5,0.0744],[36.6,0.0722],[37.4,0.0615],[38.1,0.0454],[39.0,0.0293],[39.9,0.0159],[41.0,0.0051],[42.8,0.0003],[44,0],[70,0]];
const mc3_GC = [[0,0],[5.4,0.0003],[8.0,0.0014],[9.6,0.0051],[11.1,0.0159],[12.7,0.0347],[14.2,0.0561],[15.6,0.0671],[16.8,0.0636],[18.0,0.055],[19.4,0.0465],[20.7,0.0422],[22.0,0.0443],[23.6,0.0475],[25.1,0.0513],[26.2,0.0491],[27.2,0.04],[28.3,0.0266],[29.5,0.0159],[31.1,0.011],[32.4,0.0148],[33.7,0.0212],[34.7,0.0239],[36.0,0.0159],[37.6,0.0068],[39.2,0.003],[40.7,0.0019],[42.8,0.0014],[45.9,0.0011],[49.0,0.0009],[51.1,0.0014],[53.2,0.0006],[55.5,0],[70,0]];
const mc3_NSC = [[0,0],[3.3,0.0003],[6.4,0.0011],[9.6,0.0027],[12.2,0.0046],[14.2,0.0073],[16.3,0.0116],[18.4,0.0212],[20.5,0.0373],[22.5,0.0561],[24.6,0.0695],[26.4,0.073],[27.7,0.0695],[29.1,0.0615],[30.3,0.0507],[31.6,0.04],[32.6,0.032],[33.7,0.0239],[35.0,0.0159],[36.6,0.011],[38.6,0.0097],[40.7,0.0084],[42.8,0.0062],[44.9,0.0041],[48.0,0.0019],[51.1,0.0006],[55,0],[70,0]];
const mc3_SMT = [[0,0],[3.3,0.0011],[6.4,0.0041],[9.0,0.0078],[11.1,0.0132],[12.7,0.0186],[14.2,0.025],[15.8,0.032],[17.3,0.0368],[18.9,0.04],[21.0,0.0438],[23.1,0.0459],[25.1,0.0467],[26.7,0.0473],[28.3,0.0507],[29.8,0.055],[31.4,0.0591],[32.4,0.0561],[33.4,0.0454],[34.5,0.0293],[35.5,0.0132],[36.8,0.0035],[38.1,0.0003],[40,0],[70,0]];
const mc3_all = [[0,0],[3.3,0.0009],[6.4,0.0033],[9.0,0.0068],[11.6,0.0137],[13.7,0.0229],[15.3,0.0293],[17.3,0.0341],[19.4,0.0357],[21.5,0.0371],[24.1,0.0379],[26.7,0.0368],[29.3,0.0355],[31.4,0.0365],[33.4,0.0363],[35.0,0.0336],[36.6,0.0288],[38.1,0.0218],[39.7,0.0148],[41.7,0.0084],[44.3,0.0046],[46.9,0.0025],[50.1,0.001],[54.2,0.0003],[60,0],[70,0]];

const q3_CE = [[0.25,0],[0.56,0.02],[0.619,0.15],[0.664,0.8],[0.708,2.0],[0.753,3.6],[0.786,4.7],[0.814,5.5],[0.842,4.95],[0.875,3.35],[0.909,1.95],[0.942,1.3],[0.975,1.05],[1,1.05]];
const q3_CHE = [[0.25,0],[0.765,0],[0.775,0.25],[0.797,1.75],[0.82,4.25],[0.847,5.0],[0.886,5.15],[0.931,5.1],[1,5.1]];
const q3_GC = [[0.25,0],[0.42,0.02],[0.486,0.2],[0.53,0.5],[0.575,0.5],[0.619,0.5],[0.664,0.8],[0.708,1.05],[0.753,1.4],[0.786,2.0],[0.82,2.2],[0.864,2.3],[0.898,2.9],[0.931,3.55],[0.953,4.25],[0.97,5.6],[0.987,8.4],[1,10.9]];
const q3_NSC = [[0.25,0],[0.3,0.08],[0.33,0.25],[0.355,0.03],[0.38,0],[0.462,0],[0.475,1.05],[0.488,2.9],[0.499,3.35],[0.51,2.9],[0.525,1.05],[0.542,0.15],[0.555,0],[0.93,0],[0.937,0.15],[0.953,1.5],[0.964,5.6],[0.975,14.8],[0.984,23.9],[0.992,29.7],[1,32.0]];
const q3_SMT = [[0.25,0],[0.63,0],[0.653,0.5],[0.675,2.45],[0.697,5.6],[0.72,7.7],[0.736,7.25],[0.758,5.6],[0.786,4.0],[0.82,2.45],[0.853,1.15],[0.886,0.5],[0.931,0.2],[1,0.1]];
const q3_all = [[0.25,0],[0.44,0.05],[0.464,0.8],[0.486,1.75],[0.503,2.1],[0.525,1.5],[0.547,0.5],[0.575,0.15],[0.619,0.15],[0.653,0.6],[0.686,1.4],[0.72,2.0],[0.753,2.2],[0.786,2.55],[0.814,2.75],[0.842,2.55],[0.875,2.2],[0.909,1.95],[0.937,2.0],[0.964,3.55],[0.981,4.95],[1,5.4]];

const chi3_CE = [[-0.5,0],[0.455,0],[0.479,1.75],[0.49,6.6],[0.502,12.7],[0.506,14.3],[0.515,12.1],[0.528,5.4],[0.544,0.8],[0.573,0.24],[0.64,0.3],[0.729,0.16],[0.818,0.06],[0.9,0],[1,0]];
const chi3_CHE = [[-0.5,0],[0.455,0],[0.473,3.0],[0.488,9.1],[0.502,13.1],[0.513,11.5],[0.528,4.8],[0.551,1.4],[0.584,0.6],[0.662,0.36],[0.773,0.24],[0.862,0.12],[0.929,0],[1,0]];
const chi3_GC = [[-0.5,0.03],[-0.429,0.43],[-0.34,0.8],[-0.251,1.15],[-0.162,1.5],[-0.073,1.8],[0.001,1.95],[0.05,1.9],[0.128,1.6],[0.217,1.15],[0.328,0.67],[0.417,0.3],[0.484,0.12],[0.55,0],[1,0]];
const chi3_NSC = [[-0.5,0.06],[-0.429,0.36],[-0.34,0.73],[-0.251,1.1],[-0.162,1.46],[-0.073,1.7],[0.005,1.76],[0.061,1.76],[0.128,1.52],[0.217,1.1],[0.328,0.6],[0.417,0.28],[0.506,0.09],[0.58,0],[1,0]];
const chi3_SMT = [[-0.5,0],[0.44,0],[0.45,0.3],[0.473,6.6],[0.488,12.7],[0.5,15.4],[0.511,14.4],[0.524,9.1],[0.539,2.4],[0.562,0.18],[0.58,0],[1,0]];
const chi3_all = [[-0.5,0.06],[-0.162,0.12],[-0.117,0.24],[-0.084,0.8],[-0.055,3.6],[-0.028,6.0],[0.001,7.1],[0.025,6.4],[0.048,3.6],[0.068,1.15],[0.094,0.24],[0.15,0.18],[0.217,0.43],[0.283,0.8],[0.35,1.03],[0.417,0.85],[0.484,0.49],[0.551,0.24],[0.684,0.12],[1,0.06]];

const z3_CE = [[0,0.19],[0.043,0.45],[0.089,1.13],[0.135,1.97],[0.182,2.48],[0.223,2.65],[0.265,2.54],[0.312,2.19],[0.367,1.71],[0.423,1.28],[0.488,0.88],[0.562,0.53],[0.636,0.3],[0.729,0.13],[0.84,0.046],[0.95,0.01],[1.05,0],[1.25,0]];
const z3_CHE = [[0,0.07],[0.043,0.16],[0.098,0.5],[0.154,1.05],[0.21,1.48],[0.265,1.71],[0.321,1.85],[0.358,1.87],[0.404,1.79],[0.451,1.65],[0.506,1.42],[0.58,1.16],[0.655,0.93],[0.747,0.62],[0.84,0.36],[0.933,0.19],[1.026,0.09],[1.118,0.046],[1.25,0.023]];
const z3_GC = [[0,0.25],[0.043,0.56],[0.08,1.28],[0.117,2.05],[0.154,2.6],[0.191,2.87],[0.213,2.91],[0.247,2.8],[0.284,2.51],[0.33,2.05],[0.386,1.51],[0.441,1.05],[0.506,0.65],[0.58,0.36],[0.673,0.15],[0.766,0.05],[0.9,0],[1.25,0]];
const z3_NSC = [[0,0.15],[0.043,0.36],[0.089,0.99],[0.135,1.76],[0.182,2.31],[0.228,2.54],[0.274,2.6],[0.321,2.48],[0.367,2.17],[0.423,1.68],[0.479,1.22],[0.544,0.79],[0.618,0.45],[0.71,0.19],[0.822,0.046],[0.95,0],[1.25,0]];
const z3_SMT = [[0,0.16],[0.043,0.33],[0.089,0.93],[0.135,1.65],[0.182,2.17],[0.228,2.4],[0.271,2.45],[0.312,2.37],[0.358,2.08],[0.414,1.65],[0.469,1.25],[0.534,0.85],[0.608,0.5],[0.692,0.25],[0.785,0.09],[0.896,0.023],[1.0,0],[1.25,0]];
const z3_all = [[0,0.36],[0.033,0.48],[0.07,0.99],[0.117,1.71],[0.163,2.19],[0.21,2.4],[0.243,2.45],[0.284,2.37],[0.33,2.11],[0.386,1.71],[0.441,1.34],[0.497,0.99],[0.562,0.68],[0.636,0.42],[0.729,0.22],[0.84,0.09],[0.97,0.03],[1.25,0.01]];

// lookup tables built from the arrays above: [row][CE, CHE, GC, NSC, SMT, all]
const curveTable = {
  mc: [[mc0_CE, mc0_CHE, mc0_GC, mc0_NSC, mc0_SMT, mc0_all], [mc1_CE, mc1_CHE, mc1_GC, mc1_NSC, mc1_SMT, mc1_all],
       [mc2_CE, mc2_CHE, mc2_GC, mc2_NSC, mc2_SMT, mc2_all], [mc3_CE, mc3_CHE, mc3_GC, mc3_NSC, mc3_SMT, mc3_all]],
  q: [[q0_CE, q0_CHE, q0_GC, q0_NSC, q0_SMT, q0_all], [q1_CE, q1_CHE, q1_GC, q1_NSC, q1_SMT, q1_all],
      [q2_CE, q2_CHE, q2_GC, q2_NSC, q2_SMT, q2_all], [q3_CE, q3_CHE, q3_GC, q3_NSC, q3_SMT, q3_all]],
  chi: [[chi0_CE, chi0_CHE, chi0_GC, chi0_NSC, chi0_SMT, chi0_all], [chi1_CE, chi1_CHE, chi1_GC, chi1_NSC, chi1_SMT, chi1_all],
        [chi2_CE, chi2_CHE, chi2_GC, chi2_NSC, chi2_SMT, chi2_all], [chi3_CE, chi3_CHE, chi3_GC, chi3_NSC, chi3_SMT, chi3_all]],
  z: [[z0_CE, z0_CHE, z0_GC, z0_NSC, z0_SMT, z0_all], [z1_CE, z1_CHE, z1_GC, z1_NSC, z1_SMT, z1_all],
      [z2_CE, z2_CHE, z2_GC, z2_NSC, z2_SMT, z2_all], [z3_CE, z3_CHE, z3_GC, z3_NSC, z3_SMT, z3_all]]
};

const columns = [
  { key: 'mc', xMin: 0, xMax: 70, xStep: 10, xT: mcXTicks, xL: mcXLabels, yMax: 0.075, yStep: 0.025, yT: mcYTicks, yL: mcYLabels, ev: mcEvents, red: mcRed },
  { key: 'q', xMin: 0.25, xMax: 1, xStep: 0.25, xT: qXTicks, xL: qXLabels, yMax: 32, yStep: 10, yT: qYTicks, yL: qYLabels, ev: qEvents, red: qRed },
  { key: 'chi', xMin: -0.5, xMax: 1, xStep: 0.5, xT: chiXTicks, xL: chiXLabels, yMax: 17, yStep: 4, yT: chiYTicks, yL: chiYLabels, ev: chiEvents, red: chiRed },
  { key: 'z', xMin: 0, xMax: 1.25, xStep: 0.25, xT: zXTicks, xL: zXLabels, yMax: 4, yStep: 1, yT: zYTicks, yL: zYLabels, ev: zEvents, red: zRed }
];

// layout (pixels)
const gridLeft0 = 600, gridDX = 1064, gridTop0 = 483, gridDY = 840, gridW = 886, gridH = 695;
const tickColor = '#262626';
const serif = 'Liberation Serif';
const gridColor = '#d0d0d0';

function labelFor(ticks, labels) {
  return function (v) {
    for (let i = 0; i < ticks.length; i++) {
      if (Math.abs(ticks[i] - v) < 1e-9) return labels[i];
    }
    return '';
  };
}

function rug(idx, events, color, top) {
  return {
    type: 'custom', xAxisIndex: idx, yAxisIndex: idx, silent: true, z: 1, animation: false,
    data: events.map(function (v) { return [v, top]; }),
    encode: { x: 0, y: 1 },
    renderItem: function (params, api) {
      const p0 = api.coord([api.value(0), 0]);
      const p1 = api.coord([api.value(0), api.value(1)]);
      return {
        type: 'line',
        shape: { x1: p0[0], y1: p0[1], x2: p1[0], y2: p1[1] },
        style: { stroke: color, lineWidth: 6 }
      };
    }
  };
}

const grids = [], xAxes = [], yAxes = [], series = [];
for (let r = 0; r < 4; r++) {
  for (let c = 0; c < 4; c++) {
    const col = columns[c];
    const idx = grids.length;
    grids.push({
      left: gridLeft0 + c * gridDX, top: gridTop0 + r * gridDY, width: gridW, height: gridH,
      show: true, borderColor: gridColor, borderWidth: 3, backgroundColor: '#fff'
    });
    xAxes.push({
      type: 'value', gridIndex: idx, min: col.xMin, max: col.xMax, interval: col.xStep,
      axisLine: { show: false }, axisTick: { show: false },
      splitLine: { show: true, lineStyle: { color: gridColor, width: 3 } },
      axisLabel: { show: r === 3, formatter: labelFor(col.xT, col.xL), fontFamily: serif, fontSize: 82, color: tickColor, margin: 12 }
    });
    yAxes.push({
      type: 'value', gridIndex: idx, min: 0, max: col.yMax, interval: col.yStep,
      axisLine: { show: false }, axisTick: { show: false },
      splitLine: { show: true, lineStyle: { color: gridColor, width: 3 } },
      axisLabel: { formatter: labelFor(col.yT, col.yL), fontFamily: serif, fontSize: 82, color: tickColor, margin: 36 }
    });
    const top = col.yMax * 0.102;
    series.push(rug(idx, col.ev, 'rgba(0,0,0,0.42)', top));
    series.push(rug(idx, col.red, 'rgba(255,0,0,0.42)', top));
    const curves = curveTable[col.key][r];
    for (let m = 0; m < models.length; m++) {
      series.push({
        type: 'line', name: models[m], xAxisIndex: idx, yAxisIndex: idx, data: curves[m],
        showSymbol: false, smooth: 0.35, silent: true, animation: false, z: 3,
        itemStyle: { color: modelColors[m] },
        lineStyle: { color: modelColors[m], width: 8.5, cap: 'round', join: 'round' }
      });
    }
    series.push({
      type: 'line', name: 'all', xAxisIndex: idx, yAxisIndex: idx, data: curves[5],
      showSymbol: false, smooth: 0.35, silent: true, animation: false, z: 4,
      itemStyle: { color: '#000' },
      lineStyle: { color: '#000', width: 9.5, type: [30, 13] }
    });
  }
}

// rich-text styles for axis titles
const rich = {
  r: { fontFamily: serif, fontSize: 100, lineHeight: 100, color: tickColor, verticalAlign: 'top', padding: [0, 0, 12, 0] },
  i: { fontFamily: serif, fontSize: 100, lineHeight: 100, fontStyle: 'italic', color: tickColor, verticalAlign: 'top', padding: [0, 0, 12, 0] },
  s: { fontFamily: serif, fontSize: 68, lineHeight: 68, color: tickColor, verticalAlign: 'bottom' }
};
const colTitles = ['{i|ℳ}{s|c}{r| [}{i|M}{s|⊙}{r|]}', '{i|q}', '{i|χ}{s|eff}', '{i|z}'];

const graphics = [];
for (let c = 0; c < 4; c++) {
  const cx = gridLeft0 + c * gridDX + gridW / 2;
  graphics.push({ type: 'text', x: cx, y: 437, silent: true,
    style: { text: colTitles[c], rich: rich, align: 'center', verticalAlign: 'middle' } });
  graphics.push({ type: 'text', x: cx, y: 3850, silent: true,
    style: { text: colTitles[c], rich: rich, align: 'center', verticalAlign: 'middle' } });
}
for (let r = 0; r < 4; r++) {
  const cy = gridTop0 + r * gridDY + gridH / 2;
  graphics.push({ type: 'text', x: 197, y: cy, rotation: Math.PI / 2, silent: true,
    style: { text: '{i|χ}{s|b}{r| = ' + chiB[r] + '}', rich: rich, align: 'center', verticalAlign: 'middle' } });
  graphics.push({ type: 'text', x: 330, y: cy, rotation: Math.PI / 2, silent: true,
    style: { text: '{i|p}{r|(}{i|θ}{r|)}', rich: rich, align: 'center', verticalAlign: 'middle' } });
}

const chart = echarts.init(document.getElementById('chart'), null, { renderer: 'canvas' });
chart.setOption({
  backgroundColor: '#fff',
  animation: false,
  legend: {
    data: models, left: 1015, top: 108, orient: 'horizontal',
    icon: 'rect', itemWidth: 228, itemHeight: 8, itemGap: 228,
    padding: [50, 50, 50, 35],
    backgroundColor: '#fff', borderColor: '#dcdcdc', borderWidth: 3, borderRadius: 14,
    selectedMode: false,
    textStyle: { fontFamily: 'Liberation Mono', fontSize: 92, color: tickColor, padding: [0, 0, 0, 81] }
  },
  grid: grids,
  xAxis: xAxes,
  yAxis: yAxes,
  series: series,
  graphic: graphics
});
</script>
</body>
</html>
